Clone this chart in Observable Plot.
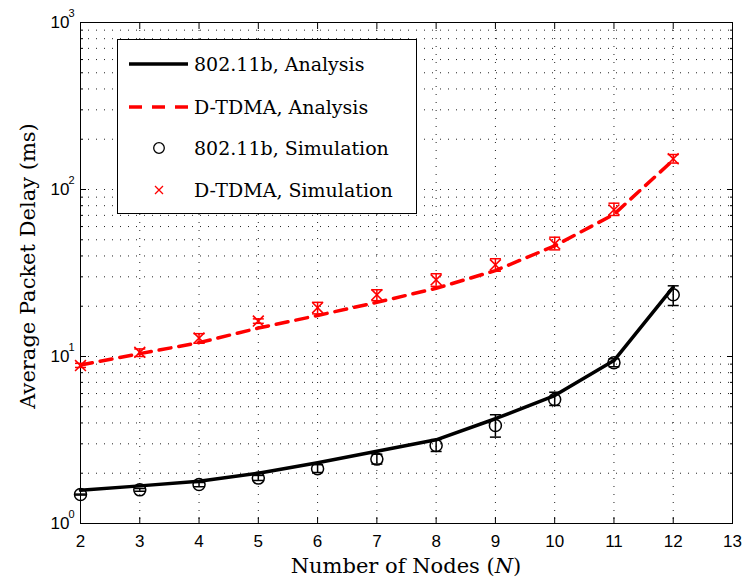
<!DOCTYPE html>
<html><head><meta charset="utf-8">
<script src="https://cdn.jsdelivr.net/npm/d3@7"></script>
<script src="https://cdn.jsdelivr.net/npm/@observablehq/plot@0.6"></script>
<style>
body{margin:0;background:#fff;}
#wrap{position:relative;width:746px;height:583px;overflow:hidden;background:#fff;}
.serif{font-family:"DejaVu Serif",serif;color:#000;}
#xlabel{position:absolute;left:80px;width:652px;top:556px;text-align:center;font-size:21px;line-height:1;}
#ylabel{position:absolute;left:28px;top:266px;transform:translate(-50%,-50%) rotate(-90deg);white-space:nowrap;font-size:21px;line-height:1;}
#legend{position:absolute;left:117px;top:39px;width:298px;height:173px;border:1px solid #000;background:#fff;}
</style>
</head><body>
<div id="wrap">
  <div id="chart"></div>
  <div id="legend"></div>
  <div id="xlabel" class="serif">Number of Nodes (<i>N</i>)</div>
  <div id="ylabel" class="serif">Average Packet Delay (ms)</div>
</div>
<script>
// ---- data ----
const nodes = [2, 3, 4, 5, 6, 7, 8, 9, 10, 11, 12];
const ana80211 = [1.58, 1.68, 1.79, 2.0, 2.31, 2.71, 3.17, 4.24, 5.84, 9.46, 26.0];
const sim80211 = [1.49, 1.59, 1.71, 1.87, 2.13, 2.43, 2.93, 3.86, 5.53, 9.17, 23.4];
const lo80211  = [1.48, 1.56, 1.66, 1.81, 2.02, 2.27, 2.70, 3.29, 5.09, 8.68, 20.2];
const hi80211  = [1.50, 1.62, 1.76, 1.94, 2.25, 2.60, 3.18, 4.48, 6.11, 9.69, 26.5];
const anaTDMA  = [8.9, 10.4, 12.1, 14.8, 17.6, 21.1, 25.6, 32.7, 46.0, 71.0, 150];
const simTDMA  = [8.83, 10.6, 12.9, 16.3, 19.6, 23.4, 28.8, 35.4, 47.3, 75.5, 152.7];
const loTDMA   = [8.6, 10.0, 12.0, 15.8, 18.0, 21.6, 26.3, 32.4, 43.5, 69.9, 144];
const hiTDMA   = [9.1, 11.1, 13.7, 16.8, 21.1, 25.1, 31.3, 38.5, 51.8, 82.8, 162];
const seriesNames = ["802.11b, Analysis", "D-TDMA, Analysis", "802.11b, Simulation", "D-TDMA, Simulation"];
const xTicks = [2, 3, 4, 5, 6, 7, 8, 9, 10, 11, 12, 13];
const yDecades = [1, 10, 100, 1000];
const yExponents = ["0", "1", "2", "3"];

// ---- derived ----
const rows = nodes.map((n, i) => ({
  n, a80: ana80211[i], s80: sim80211[i], lo80: lo80211[i], hi80: hi80211[i],
  aTD: anaTDMA[i], sTD: simTDMA[i], loTD: loTDMA[i], hiTD: hiTDMA[i]
}));
const minorY = [];
for (const d of yDecades.slice(0, -1)) for (let k = 2; k <= 9; k++) minorY.push(k * d);
const gridY = yDecades.concat(minorY);
const decRows = yDecades.map((v, i) => ({v, e: yExponents[i]}));

const hcap = {draw(ctx, size) { const w = Math.sqrt(size / Math.PI); ctx.moveTo(-w, 0); ctx.lineTo(w, 0); }};
const dotted = {stroke: "#222", strokeWidth: 1, strokeDasharray: "1,7"};

const plot = Plot.plot({
  width: 746, height: 583,
  marginLeft: 80, marginRight: 14, marginTop: 22, marginBottom: 60,
  style: {fontFamily: "'Liberation Sans', Arial, sans-serif", fontSize: "17px", background: "#fff", color: "#000"},
  x: {type: "linear", domain: [2, 13]},
  y: {type: "log", domain: [1, 1000]},
  marks: [
    Plot.ruleY(gridY, {y: d => d, ...dotted}),
    Plot.ruleX(xTicks.slice(1, -1), {x: d => d, ...dotted}),
    Plot.axisX({anchor: "bottom", ticks: xTicks, tickSize: 0, tickPadding: 11, label: null, tickFormat: d => String(d)}),
    Plot.axisX({anchor: "bottom", ticks: xTicks, tickSize: -6, tickFormat: () => "", label: null}),
    Plot.axisX({anchor: "top", ticks: xTicks, tickSize: -6, tickFormat: () => "", label: null}),
    Plot.axisY({anchor: "left", ticks: yDecades, tickSize: -6, tickFormat: () => "", label: null}),
    Plot.axisY({anchor: "left", ticks: minorY, tickSize: -3, tickFormat: () => "", label: null}),
    Plot.axisY({anchor: "right", ticks: yDecades, tickSize: -6, tickFormat: () => "", label: null}),
    Plot.axisY({anchor: "right", ticks: minorY, tickSize: -3, tickFormat: () => "", label: null}),
    Plot.text(decRows, {y: "v", text: () => "10", frameAnchor: "left", textAnchor: "end", dx: -11, fontSize: 17}),
    Plot.text(decRows, {y: "v", text: "e", frameAnchor: "left", textAnchor: "start", dx: -12, dy: -9, fontSize: 11}),
    Plot.frame({stroke: "#000", strokeWidth: 1}),
    Plot.line(rows, {x: "n", y: "a80", stroke: "#000", strokeWidth: 3.5}),
    Plot.line(rows, {x: "n", y: "aTD", stroke: "#ff0000", strokeWidth: 3.5, strokeDasharray: "12,8"}),
    Plot.ruleX(rows, {x: "n", y1: "lo80", y2: "hi80", stroke: "#000", strokeWidth: 1.5}),
    Plot.dot(rows, {x: "n", y: "lo80", symbol: hcap, r: 5.5, stroke: "#000", fill: "none", strokeWidth: 1.5}),
    Plot.dot(rows, {x: "n", y: "hi80", symbol: hcap, r: 5.5, stroke: "#000", fill: "none", strokeWidth: 1.5}),
    Plot.dot(rows, {x: "n", y: "s80", symbol: "circle", r: 6, stroke: "#000", fill: "none", strokeWidth: 1.5}),
    Plot.ruleX(rows, {x: "n", y1: "loTD", y2: "hiTD", stroke: "#ff0000", strokeWidth: 1.5}),
    Plot.dot(rows, {x: "n", y: "loTD", symbol: hcap, r: 5.5, stroke: "#ff0000", fill: "none", strokeWidth: 1.5}),
    Plot.dot(rows, {x: "n", y: "hiTD", symbol: hcap, r: 5.5, stroke: "#ff0000", fill: "none", strokeWidth: 1.5}),
    Plot.dot(rows, {x: "n", y: "sTD", symbol: "times", r: 5, stroke: "#ff0000", fill: "none", strokeWidth: 1.6})
  ]
});
document.getElementById("chart").appendChild(plot);

// ---- legend ----
const lg = d3.select("#legend").append("svg").attr("width", 298).attr("height", 173);
const rowY = [24, 67, 108, 150];
seriesNames.forEach((name, i) => {
  const y = rowY[i];
  if (i === 0) lg.append("line").attr("x1", 11).attr("x2", 70).attr("y1", y).attr("y2", y).attr("stroke", "#000").attr("stroke-width", 3.5);
  if (i === 1) lg.append("line").attr("x1", 11).attr("x2", 70).attr("y1", y).attr("y2", y).attr("stroke", "#ff0000").attr("stroke-width", 3.5).attr("stroke-dasharray", "13,10");
  if (i === 2) lg.append("circle").attr("cx", 41).attr("cy", y).attr("r", 5.3).attr("fill", "none").attr("stroke", "#000").attr("stroke-width", 1.3);
  if (i === 3) lg.append("path").attr("d", `M${41-4},${y-4}L${41+4},${y+4}M${41-4},${y+4}L${41+4},${y-4}`).attr("stroke", "#ff0000").attr("stroke-width", 1.3);
  lg.append("text").attr("x", 76).attr("y", y).attr("dy", "0.36em")
    .attr("font-family", "'DejaVu Serif', serif").attr("font-size", 19).attr("fill", "#000").text(name);
});
</script>
</body></html>
